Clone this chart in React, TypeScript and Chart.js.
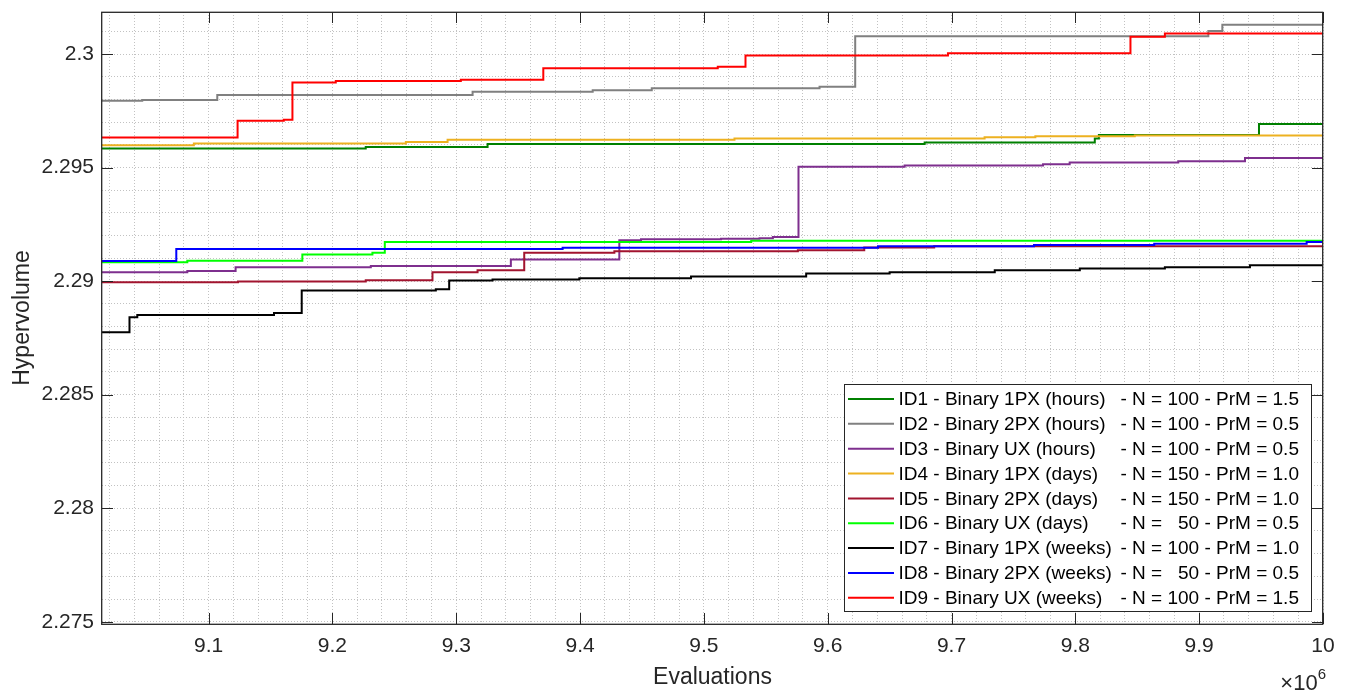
import React, { useEffect, useRef } from "react";
import { Chart, registerables } from "chart.js";

Chart.register(...registerables);

// ---- axis ranges / ticks ----
const X_MIN = 9013900;
const X_MAX = 10000000;
const Y_MIN = 2.2749;
const Y_MAX = 2.30185;
const X_MINOR_STEP = 20000;
const X_MAJOR_STEP = 100000;
const Y_MINOR_STEP = 0.001;
const Y_MAJOR_STEP = 0.005;

// ---- series meta ----
const seriesNames = [
  "ID1 - Binary 1PX (hours)",
  "ID2 - Binary 2PX (hours)",
  "ID3 - Binary UX (hours)",
  "ID4 - Binary 1PX (days)",
  "ID5 - Binary 2PX (days)",
  "ID6 - Binary UX (days)",
  "ID7 - Binary 1PX (weeks)",
  "ID8 - Binary 2PX (weeks)",
  "ID9 - Binary UX (weeks)",
];
const seriesParams = [
  "- N = 100 - PrM = 1.5",
  "- N = 100 - PrM = 0.5",
  "- N = 100 - PrM = 0.5",
  "- N = 150 - PrM = 1.0",
  "- N = 150 - PrM = 1.0",
  "- N =   50 - PrM = 0.5",
  "- N = 100 - PrM = 1.0",
  "- N =   50 - PrM = 0.5",
  "- N = 100 - PrM = 1.5",
];
const seriesColors = [
  "#008000",
  "#808080",
  "#7E2F8E",
  "#EDB120",
  "#A2142F",
  "#00FF00",
  "#000000",
  "#0000FF",
  "#FF0000",
];

// ---- series values (evaluations at which hypervolume changes) ----
const id1X = [9000000, 9226900, 9325300, 9678300, 9815700, 9819000, 9948300, 10000000];
const id1Y = [2.29584, 2.2959, 2.29604, 2.2961, 2.29628, 2.29643, 2.29692, 2.29692];

const id2X = [9000000, 9046400, 9107000, 9313200, 9410200, 9457900, 9593400, 9622200, 9907400, 9918700, 10000000];
const id2Y = [2.29794, 2.29798, 2.29819, 2.29834, 2.2984, 2.29849, 2.29856, 2.30078, 2.30101, 2.30129, 2.30129];

const id3X = [9000000, 9082800, 9121800, 9231000, 9344100, 9431700, 9449200, 9513900, 9544900, 9555700, 9576400, 9662100, 9773900, 9795400, 9883100, 9937000, 10000000];
const id3Y = [2.29039, 2.29044, 2.29061, 2.29066, 2.29095, 2.2918, 2.29184, 2.29186, 2.29189, 2.29194, 2.29503, 2.29509, 2.29515, 2.29522, 2.29528, 2.29542, 2.29542];

const id4X = [9000000, 9088100, 9259300, 9293000, 9524700, 9726700, 9767700, 9848000, 10000000];
const id4Y = [2.29598, 2.29606, 2.29613, 2.29622, 2.29628, 2.29634, 2.29638, 2.29641, 2.29641];

const id5X = [9000000, 9123700, 9226900, 9280800, 9317200, 9354900, 9427700, 9575900, 9629500, 9686000, 10000000];
const id5Y = [2.28995, 2.28998, 2.29004, 2.29039, 2.29048, 2.29125, 2.29131, 2.29136, 2.29148, 2.29154, 2.29154];

const id6X = [9000000, 9082800, 9175700, 9232300, 9242300, 9538200, 10000000];
const id6Y = [2.29083, 2.2909, 2.29117, 2.29125, 2.29172, 2.29178, 2.29178];

const id7X = [9000000, 9036100, 9042400, 9152800, 9175200, 9283500, 9294300, 9329300, 9399400, 9489600, 9582600, 9650000, 9734900, 9803600, 9872300, 9941000, 10000000];
const id7Y = [2.28775, 2.28841, 2.28851, 2.2886, 2.28959, 2.28964, 2.29003, 2.29007, 2.29013, 2.2902, 2.29034, 2.29039, 2.29048, 2.29056, 2.29061, 2.2907, 2.2907];

const id8X = [9000000, 9073900, 9385900, 9640600, 9766600, 9863700, 9986800, 10000000];
const id8Y = [2.29088, 2.29141, 2.29147, 2.29153, 2.29159, 2.29165, 2.29172, 2.29172];

const id9X = [9000000, 9123400, 9160700, 9167700, 9202700, 9303700, 9370300, 9511200, 9533600, 9697100, 9844500, 9872300, 10000000];
const id9Y = [2.29632, 2.29706, 2.2971, 2.29875, 2.29881, 2.29887, 2.29937, 2.29944, 2.29993, 2.30003, 2.30076, 2.3009, 2.3009];

const seriesX = [id1X, id2X, id3X, id4X, id5X, id6X, id7X, id8X, id9X];
const seriesY = [id1Y, id2Y, id3Y, id4Y, id5Y, id6Y, id7Y, id8Y, id9Y];

const FONT = "'Liberation Sans', Arial, Helvetica, sans-serif";
const AXIS_COLOR = "#262626";

const isMultiple = (v: number, step: number) => {
  const r = v / step;
  return Math.abs(r - Math.round(r)) < 1e-6;
};

// grid/tick positions on a fixed step inside [min, max]
const stepTicks = (min: number, max: number, step: number) => {
  const out: { value: number }[] = [];
  const k0 = Math.ceil(min / step - 1e-9);
  const k1 = Math.floor(max / step + 1e-9);
  for (let k = k0; k <= k1; k++) out.push({ value: Number((k * step).toFixed(6)) });
  return out;
};

const decorPlugin = {
  id: "matlabDecor",
  afterDraw(chart: any) {
    const { ctx, chartArea: a, scales } = chart;
    const xs = scales.x;
    const ys = scales.y;
    ctx.save();

    // inward major ticks on all four sides
    ctx.strokeStyle = AXIS_COLOR;
    ctx.lineWidth = 1;
    const TL = 11;
    ctx.beginPath();
    xs.ticks.forEach((t: any) => {
      if (!isMultiple(t.value, X_MAJOR_STEP)) return;
      const px = Math.round(xs.getPixelForValue(t.value)) + 0.5;
      ctx.moveTo(px, a.bottom);
      ctx.lineTo(px, a.bottom - TL);
      ctx.moveTo(px, a.top);
      ctx.lineTo(px, a.top + TL);
    });
    ys.ticks.forEach((t: any) => {
      if (!isMultiple(t.value, Y_MAJOR_STEP)) return;
      const py = Math.round(ys.getPixelForValue(t.value)) + 0.5;
      ctx.moveTo(a.left, py);
      ctx.lineTo(a.left + TL, py);
      ctx.moveTo(a.right, py);
      ctx.lineTo(a.right - TL, py);
    });
    ctx.stroke();

    // legend box
    const boxW = 467;
    const boxH = 226.5;
    const bx = a.right - 12.5 - boxW;
    const by = a.bottom - 13.5 - boxH;
    ctx.fillStyle = "#ffffff";
    ctx.fillRect(bx, by, boxW, boxH);
    ctx.strokeStyle = AXIS_COLOR;
    ctx.lineWidth = 1;
    ctx.strokeRect(Math.round(bx) + 0.5, Math.round(by) + 0.5, Math.round(boxW), Math.round(boxH));

    const datasets = chart.data.datasets;
    ctx.font = `19px ${FONT}`;
    ctx.textBaseline = "middle";
    ctx.textAlign = "left";
    datasets.forEach((ds: any, i: number) => {
      const cy = by + 15 + i * 24.85;
      ctx.strokeStyle = ds.borderColor;
      ctx.lineWidth = 2;
      ctx.beginPath();
      ctx.moveTo(bx + 4.5, cy);
      ctx.lineTo(bx + 50.5, cy);
      ctx.stroke();
      ctx.fillStyle = "#000000";
      ctx.fillText(seriesNames[i], bx + 55, cy + 1);
      ctx.fillText(seriesParams[i], bx + 277, cy + 1);
    });

    // axis frame
    ctx.strokeStyle = AXIS_COLOR;
    ctx.lineWidth = 1.3;
    ctx.strokeRect(a.left - 0.3, a.top + 0.3, a.right - a.left, a.bottom - a.top);

    // exponent label
    ctx.fillStyle = AXIS_COLOR;
    ctx.textBaseline = "alphabetic";
    ctx.textAlign = "right";
    ctx.font = `15px ${FONT}`;
    const supW = ctx.measureText("6").width;
    ctx.fillText("6", a.right + 3, 679);
    ctx.font = `22px ${FONT}`;
    ctx.fillText("\u00D710", a.right + 3 - supW, 690);

    ctx.restore();
  },
};

export default function App() {
  const canvasRef = useRef<HTMLCanvasElement | null>(null);

  useEffect(() => {
    if (!canvasRef.current) return;
    const datasets = seriesNames.map((name, i) => ({
      label: `${name} ${seriesParams[i]}`,
      data: seriesX[i].map((x, j) => ({ x, y: seriesY[i][j] })),
      borderColor: seriesColors[i],
      backgroundColor: seriesColors[i],
      borderWidth: 2,
      pointRadius: 0,
      stepped: "before" as const,
      fill: false,
      order: seriesNames.length - i,
    }));

    const chart = new Chart(canvasRef.current, {
      type: "line",
      data: { datasets },
      options: {
        animation: false,
        responsive: false,
        events: [],
        layout: { padding: { top: 12, right: 26, left: 0, bottom: 0 } },
        plugins: {
          legend: { display: false },
          tooltip: { enabled: false },
          title: { display: false },
        },
        scales: {
          x: {
            type: "linear",
            min: X_MIN,
            max: X_MAX,
            afterBuildTicks: (s: any) => {
              s.ticks = stepTicks(X_MIN, X_MAX, X_MINOR_STEP);
            },
            afterFit: (s: any) => {
              s.height = 69;
              s.paddingLeft = 0;
              s.paddingRight = 0;
            },
            border: { display: false, dash: [1, 2] },
            grid: { color: "#c2c2c2", lineWidth: 1, drawTicks: false },
            ticks: {
              autoSkip: false,
              maxRotation: 0,
              minRotation: 0,
              padding: 10,
              color: AXIS_COLOR,
              font: { family: FONT, size: 21 },
              callback: (v: any) => (isMultiple(Number(v), X_MAJOR_STEP) ? String(Number((Number(v) / 1e6).toFixed(1))) : ""),
            },
            title: {
              display: true,
              text: "Evaluations",
              color: AXIS_COLOR,
              font: { family: FONT, size: 23 },
              padding: { top: 0, bottom: 2 },
            },
          },
          y: {
            type: "linear",
            min: Y_MIN,
            max: Y_MAX,
            afterBuildTicks: (s: any) => {
              s.ticks = stepTicks(Y_MIN, Y_MAX, Y_MINOR_STEP);
            },
            afterFit: (s: any) => {
              s.width = 102;
              s.paddingTop = 0;
              s.paddingBottom = 0;
            },
            border: { display: false, dash: [1, 2] },
            grid: { color: "#c2c2c2", lineWidth: 1, drawTicks: false },
            ticks: {
              autoSkip: false,
              padding: 8,
              color: AXIS_COLOR,
              font: { family: FONT, size: 21 },
              callback: (v: any) => (isMultiple(Number(v), Y_MAJOR_STEP) ? String(Number(Number(v).toFixed(3))) : ""),
            },
            title: {
              display: true,
              text: "Hypervolume",
              color: AXIS_COLOR,
              font: { family: FONT, size: 23 },
              padding: { top: 9, bottom: 0 },
            },
          },
        },
      },
      plugins: [decorPlugin],
    });
    return () => chart.destroy();
  }, []);

  return (
    <div style={{ position: "fixed", left: 0, top: 0, width: 1349, height: 693, background: "#ffffff" }}>
      <canvas ref={canvasRef} width={1349} height={693} style={{ display: "block" }} />
    </div>
  );
}
